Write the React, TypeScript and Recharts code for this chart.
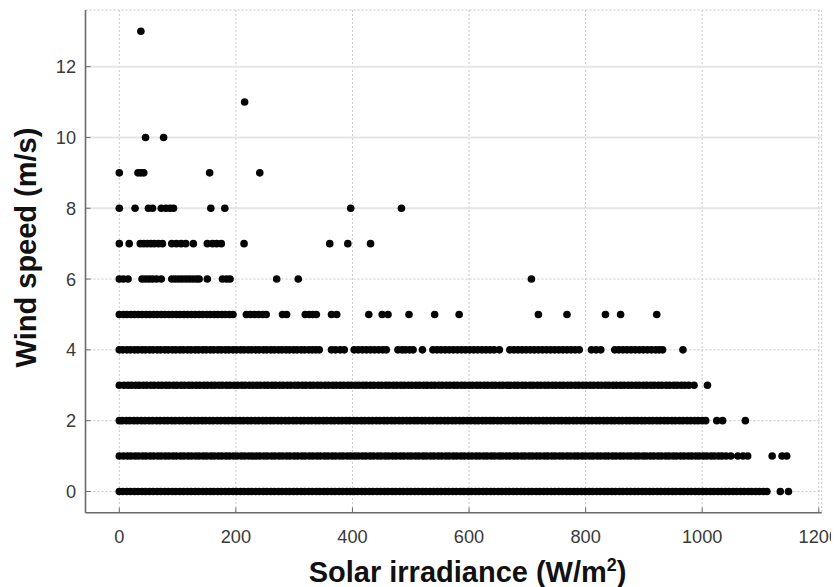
import React from "react";
import { ScatterChart, Scatter, XAxis, YAxis, CartesianGrid, ReferenceLine } from "recharts";

// Axis ticks
const xTicks = [0, 200, 400, 600, 800, 1000, 1200];
const yTicks = [0, 2, 4, 6, 8, 10, 12];
const solidGridRows = [8, 10, 12];

// Solar irradiance (W/m²) of each observation, grouped by recorded wind speed (m/s)
const ws0 = [
  0, 6, 13, 19, 26, 32, 39, 45, 52, 58, 65, 71, 78, 84, 91, 97, 104, 110, 117, 123, 130, 136, 143, 149, 156, 162, 169,
  175, 182, 188, 195, 201, 208, 214, 221, 227, 234, 240, 247, 253, 260, 266, 273, 279, 286, 292, 299, 305, 312, 318,
  325, 331, 338, 344, 351, 357, 364, 370, 377, 383, 390, 396, 403, 409, 416, 422, 429, 435, 442, 448, 455, 461, 468,
  474, 481, 487, 494, 500, 507, 513, 520, 526, 533, 539, 546, 552, 559, 565, 572, 578, 585, 591, 598, 604, 611, 617,
  624, 630, 637, 643, 650, 656, 663, 669, 676, 682, 689, 695, 702, 708, 715, 721, 728, 734, 741, 747, 754, 760, 767,
  773, 780, 786, 793, 799, 806, 812, 819, 825, 832, 838, 845, 851, 858, 864, 871, 877, 884, 890, 897, 903, 910, 916,
  923, 929, 936, 942, 949, 955, 962, 968, 975, 981, 988, 994, 1001, 1007, 1014, 1020, 1027, 1033, 1040, 1046, 1053,
  1059, 1066, 1072, 1079, 1085, 1092, 1098, 1105, 1111, 1134, 1148,
];
const ws1 = [
  0, 7, 14, 20, 27, 33, 40, 46, 53, 59, 66, 72, 79, 85, 92, 98, 105, 111, 118, 124, 131, 137, 144, 150, 157, 163, 170,
  176, 183, 189, 196, 202, 209, 215, 222, 228, 235, 241, 248, 254, 261, 267, 274, 280, 287, 293, 300, 306, 313, 319,
  326, 332, 339, 345, 352, 358, 365, 371, 378, 384, 391, 397, 404, 410, 417, 423, 430, 436, 443, 449, 456, 462, 469,
  475, 482, 488, 495, 501, 508, 514, 521, 527, 534, 540, 547, 553, 560, 566, 573, 579, 586, 592, 599, 605, 612, 618,
  625, 631, 638, 644, 651, 657, 664, 670, 677, 683, 690, 696, 703, 709, 716, 722, 729, 735, 742, 748, 755, 761, 768,
  774, 781, 787, 794, 800, 807, 813, 820, 826, 833, 839, 846, 852, 859, 865, 872, 878, 885, 891, 898, 904, 911, 917,
  924, 930, 937, 943, 950, 956, 963, 969, 976, 982, 989, 995, 1002, 1008, 1015, 1021, 1028, 1034, 1041, 1049, 1061,
  1070, 1078, 1120, 1137, 1145,
];
const ws2 = [
  0, 5, 12, 18, 25, 31, 38, 44, 51, 57, 64, 70, 77, 83, 90, 96, 103, 109, 116, 122, 129, 135, 142, 148, 155, 161, 168,
  174, 181, 187, 194, 200, 207, 213, 220, 226, 233, 239, 246, 252, 259, 265, 272, 278, 285, 291, 298, 304, 311, 317,
  324, 330, 337, 343, 350, 356, 363, 369, 376, 382, 389, 395, 402, 408, 415, 421, 428, 434, 441, 447, 454, 460, 467,
  473, 480, 486, 493, 499, 506, 512, 519, 525, 532, 538, 545, 551, 558, 564, 571, 577, 584, 590, 597, 603, 610, 616,
  623, 629, 636, 642, 649, 655, 662, 668, 675, 681, 688, 694, 701, 707, 714, 720, 727, 733, 740, 746, 753, 759, 766,
  772, 779, 785, 792, 798, 805, 811, 818, 824, 831, 837, 844, 850, 857, 863, 870, 876, 883, 889, 896, 902, 909, 915,
  922, 928, 935, 941, 948, 954, 961, 967, 974, 980, 987, 993, 1000, 1006, 1025, 1035, 1074,
];
const ws3 = [
  0, 8, 15, 21, 28, 34, 41, 47, 54, 60, 67, 73, 80, 86, 93, 99, 106, 112, 119, 125, 132, 138, 145, 151, 158, 164, 171,
  177, 184, 190, 197, 203, 210, 216, 223, 229, 236, 242, 249, 255, 262, 268, 275, 281, 288, 294, 301, 307, 314, 320,
  327, 333, 340, 346, 353, 359, 366, 372, 379, 385, 392, 398, 405, 411, 418, 424, 431, 437, 444, 450, 457, 463, 470,
  476, 483, 489, 496, 502, 509, 515, 522, 528, 535, 541, 548, 554, 561, 567, 574, 580, 587, 593, 600, 606, 613, 619,
  626, 632, 639, 645, 652, 658, 665, 671, 678, 684, 691, 697, 704, 710, 717, 723, 730, 736, 743, 749, 756, 762, 769,
  775, 782, 788, 795, 801, 808, 814, 821, 827, 834, 840, 847, 853, 860, 866, 873, 879, 886, 892, 899, 905, 912, 918,
  925, 931, 938, 944, 951, 957, 964, 970, 977, 986, 1009,
];
const ws4 = [
  0, 6, 13, 19, 26, 32, 39, 45, 52, 58, 65, 71, 78, 84, 91, 97, 104, 110, 117, 123, 130, 136, 143, 149, 156, 162, 169,
  175, 182, 188, 195, 201, 208, 214, 221, 227, 234, 240, 247, 253, 260, 266, 273, 279, 286, 292, 299, 305, 312, 318,
  325, 331, 337, 343, 364, 371, 379, 386, 403, 410, 417, 424, 431, 438, 445, 452, 458, 478, 485, 491, 498, 504, 520,
  538, 545, 552, 559, 566, 573, 580, 587, 594, 601, 608, 615, 622, 629, 636, 643, 652, 670, 677, 684, 691, 698, 705,
  712, 719, 726, 733, 740, 747, 754, 761, 768, 775, 782, 789, 810, 818, 826, 850, 857, 864, 871, 878, 885, 892, 899,
  906, 913, 920, 926, 932, 967,
];
const ws5 = [
  0, 7, 13, 20, 26, 33, 39, 46, 52, 59, 65, 72, 78, 85, 91, 98, 104, 111, 117, 124, 130, 137, 143, 150, 156, 163, 169,
  176, 182, 189, 195, 218, 225, 232, 239, 246, 252, 280, 287, 319, 326, 332, 338, 364, 373, 428, 451, 461, 497, 541,
  583, 719, 768, 834, 860, 922,
];
const ws6 = [
  0, 7, 15, 39, 45, 51, 57, 64, 72, 90, 96, 102, 108, 114, 120, 126, 132, 137, 151, 177, 184, 190, 270, 307, 707,
];
const ws7 = [0, 17, 36, 42, 48, 54, 60, 67, 74, 90, 98, 106, 114, 127, 151, 160, 167, 175, 214, 361, 392, 431];
const ws8 = [0, 27, 50, 57, 72, 80, 87, 93, 157, 181, 397, 484];
const ws9 = [0, 32, 37, 42, 155, 241];
const ws10 = [45, 76];
const ws11 = [215];
const ws13 = [37];

const rows: [number, number[]][] = [
  [0, ws0],
  [1, ws1],
  [2, ws2],
  [3, ws3],
  [4, ws4],
  [5, ws5],
  [6, ws6],
  [7, ws7],
  [8, ws8],
  [9, ws9],
  [10, ws10],
  [11, ws11],
  [13, ws13],
];

const points = rows.flatMap(([ws, xs]) => xs.map((irr) => ({ irr, ws })));

const FRAME = "#6a6a6a";
const TICK_LEN = 5;
const FONT = "'Liberation Sans', Arial, Helvetica, sans-serif";
const LABEL_COLOR = "#3a3a3a";
const LABEL_SIZE = 18.2;

const BottomTick = (props: any) => {
  const { x, y, payload } = props;
  return (
    <g>
      <line x1={x} x2={x} y1={y} y2={y - TICK_LEN} stroke={FRAME} strokeWidth={1} />
      <text x={x} y={y + 30.6} textAnchor="middle" fontSize={LABEL_SIZE} fill={LABEL_COLOR} fontFamily={FONT}>
        {payload.value}
      </text>
    </g>
  );
};

const LeftTick = (props: any) => {
  const { x, y, payload } = props;
  return (
    <g>
      <line x1={x} x2={x + TICK_LEN} y1={y} y2={y} stroke={FRAME} strokeWidth={1} />
      <text x={x - 9.5} y={y + 6.6} textAnchor="end" fontSize={LABEL_SIZE} fill={LABEL_COLOR} fontFamily={FONT}>
        {payload.value}
      </text>
    </g>
  );
};

const TopTick = (props: any) => {
  const { x, y } = props;
  return <line x1={x} x2={x} y1={y} y2={y + TICK_LEN} stroke={FRAME} strokeWidth={1} />;
};

const RightTick = (props: any) => {
  const { x, y } = props;
  return <line x1={x} x2={x - TICK_LEN} y1={y} y2={y} stroke={FRAME} strokeWidth={1} />;
};

const XTitle = (props: any) => {
  const { viewBox } = props;
  const cx = viewBox.x + viewBox.width / 2 + 14;
  const by = viewBox.y + 69;
  return (
    <text x={cx} y={by} textAnchor="middle" fontSize={29} fontWeight="bold" fill="#111" fontFamily={FONT}>
      Solar irradiance (W/m
      <tspan fontSize={18} dy={-11}>2</tspan>
      <tspan dy={11}>)</tspan>
    </text>
  );
};

const YTitle = () => {
  const bx = 27.6;
  const cy = 239.5;
  return (
    <text
      x={bx}
      y={cy}
      transform={`rotate(-90, ${bx}, ${cy})`}
      textAnchor="middle"
      fontSize={29}
      fontWeight="bold"
      fill="#111"
      fontFamily={FONT}
    >
      Wind speed (m/s)
    </text>
  );
};

const Dot = (props: any) => {
  const { cx, cy } = props;
  return <circle cx={cx} cy={cy} r={3.8} fill="#050505" />;
};

export default function App() {
  return (
    <div style={{ width: 831, height: 579, overflow: "visible" }}>
      <style>{`.recharts-wrapper, .recharts-surface { overflow: visible !important; }`}</style>
      <ScatterChart width={831} height={579} margin={{ top: 2, right: 17.3, bottom: 0, left: 0 }}>
        <CartesianGrid stroke="#c8c8c8" strokeDasharray="2 2" strokeWidth={1} />
        {solidGridRows.map((v) => (
          <ReferenceLine key={v} y={v} stroke="#e6e6e6" strokeWidth={2} />
        ))}
        <XAxis
          dataKey="irr"
          type="number"
          domain={[-58, 1205]}
          ticks={xTicks}
          interval={0}
          allowDataOverflow
          height={74.3}
          tickSize={0}
          tickMargin={0}
          tickLine={false}
          axisLine={{ stroke: FRAME, strokeWidth: 1.6 }}
          tick={BottomTick}
          label={<XTitle />}
        />
        <XAxis
          xAxisId="top"
          orientation="top"
          type="number"
          domain={[-58, 1205]}
          ticks={xTicks}
          interval={0}
          allowDataOverflow
          height={0}
          tickSize={0}
          tickMargin={0}
          tickLine={false}
          axisLine={{ stroke: FRAME, strokeWidth: 1.6 }}
          tick={TopTick}
        />
        <YAxis
          dataKey="ws"
          type="number"
          domain={[-0.6, 13.6]}
          ticks={yTicks}
          interval={0}
          allowDataOverflow
          width={77.5}
          tickSize={0}
          tickMargin={0}
          tickLine={false}
          axisLine={{ stroke: FRAME, strokeWidth: 1.6 }}
          tick={LeftTick}
          label={<YTitle />}
        />
        <YAxis
          yAxisId="right"
          orientation="right"
          type="number"
          domain={[-0.6, 13.6]}
          ticks={yTicks}
          interval={0}
          allowDataOverflow
          width={0}
          tickSize={0}
          tickMargin={0}
          tickLine={false}
          axisLine={{ stroke: FRAME, strokeWidth: 1.6 }}
          tick={RightTick}
        />
        <Scatter data={points} shape={Dot} isAnimationActive={false} />
      </ScatterChart>
    </div>
  );
}
